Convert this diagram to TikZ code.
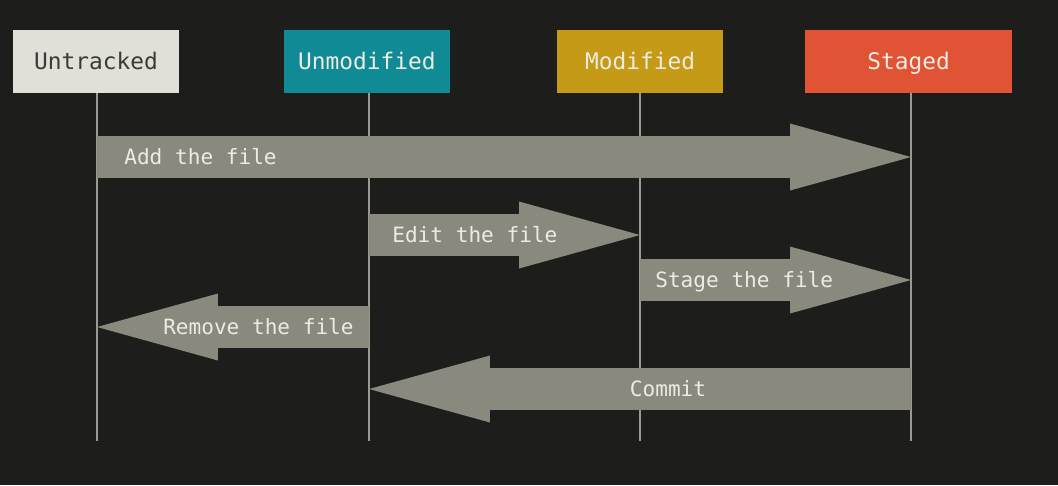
\documentclass[tikz,border=0pt]{standalone}
\usepackage{fontspec}
\setmonofont{DejaVu Sans Mono}
\usetikzlibrary{arrows.meta}

\definecolor{bgdark}{HTML}{1D1D1B}
\definecolor{untracked}{HTML}{E0E0D9}
\definecolor{unmodified}{HTML}{108A94}
\definecolor{modified}{HTML}{C49A17}
\definecolor{staged}{HTML}{E05435}
\definecolor{flowgrey}{HTML}{8A897E}
\definecolor{lifegrey}{HTML}{9A9A90}
\definecolor{darktext}{HTML}{3A3A37}
\definecolor{lighttext}{HTML}{ECECE3}

\begin{document}
\begin{tikzpicture}[x=0.02cm,y=-0.02cm,
    state/.style={minimum width=3.32cm,minimum height=1.26cm,inner sep=0pt,text=lighttext,
      text height=0.92em,text depth=0pt,font=\ttfamily\fontsize{13}{15}\selectfont},
    lifeline/.style={draw=lifegrey,line width=0.9pt},
    flow/.style={draw=flowgrey,line width=0.84cm,
      -{Triangle[length=2.42cm,width=1.34cm,line width=0pt]}},
    flowlabel/.style={text=lighttext,inner sep=0pt,text height=0.88em,text depth=0pt,
      font=\ttfamily\fontsize{12}{14}\selectfont}]
        \fill[bgdark] (0,0) rectangle (1058,485); % Background.

        \node[state,fill=untracked,text=darktext] (ut) at (96,61.5) {Untracked};
        \node[state,fill=unmodified] (um) at (367,61.5) {Unmodified};
        \node[state,fill=modified] (md) at (640,61.5) {Modified};
        \node[state,fill=staged,minimum width=4.14cm] (st) at (908.5,61.5) {Staged};

        % Lifelines, a little off the box centres as in the original.
        \coordinate (utl) at (97,93);
        \coordinate (uml) at (369,93);
        \coordinate (mdl) at (640,93);
        \coordinate (stl) at (911,93);
        \coordinate (bottom) at (0,441);
        \draw[lifeline] (utl) -- (utl |- bottom);
        \draw[lifeline] (uml) -- (uml |- bottom);
        \draw[lifeline] (mdl) -- (mdl |- bottom);
        \draw[lifeline] (stl) -- (stl |- bottom);

        % Levels of the transitions.
        \coordinate (add) at (0,157);
        \coordinate (edit) at (0,235);
        \coordinate (stage) at (0,280);
        \coordinate (remove) at (0,327);
        \coordinate (commit) at (0,389);

        \draw[flow] (utl |- add) -- (stl |- add);
        \draw[flow] (uml |- edit) -- (mdl |- edit);
        \draw[flow] (mdl |- stage) -- (stl |- stage);
        \draw[flow] (uml |- remove) -- (utl |- remove);
        \draw[flow] (stl |- commit) -- (uml |- commit);

        \node[flowlabel,anchor=west] (addlbl) at (124,157) {Add the file};
        \node[flowlabel,anchor=west] (editlbl) at (392,235) {Edit the file};
        \node[flowlabel,anchor=west] (stagelbl) at (655,280) {Stage the file};
        \node[flowlabel,anchor=east] (removelbl) at (354,327) {Remove the file};
        \node[flowlabel] (commitlbl) at (668,389) {Commit};
      \end{tikzpicture}
\end{document}
